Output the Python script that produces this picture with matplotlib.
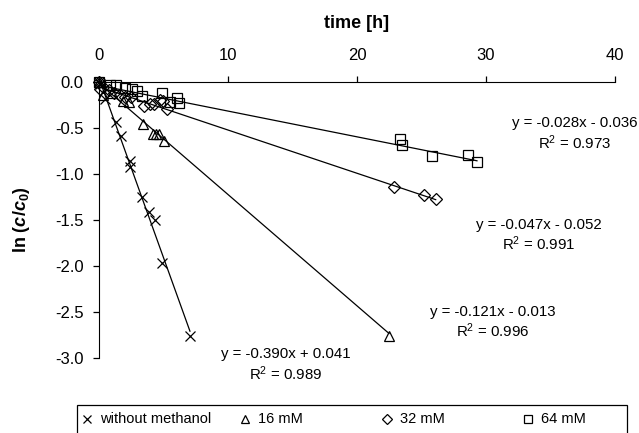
import matplotlib
matplotlib.use('Agg')
import matplotlib.pyplot as plt
from matplotlib.lines import Line2D
from matplotlib.patches import Rectangle

plt.rcParams['font.family'] = ['Liberation Sans', 'DejaVu Sans']
plt.rcParams['axes.unicode_minus'] = False
plt.rcParams['mathtext.fontset'] = 'custom'
plt.rcParams['mathtext.it'] = 'Liberation Sans:bold:italic'
plt.rcParams['mathtext.rm'] = 'Liberation Sans'
plt.rcParams['mathtext.bf'] = 'Liberation Sans:bold'

# without methanol
t_none = [0.0, 0.08, 0.47, 1.29, 1.68, 2.40, 2.42, 3.33, 3.88, 4.34, 4.86, 7.05]
y_none = [0.0, -0.02, -0.18, -0.43, -0.59, -0.86, -0.92, -1.25, -1.41, -1.50, -1.97, -2.76]
# 16 mM
t_16 = [0.0, 0.28, 1.0, 1.84, 2.35, 3.39, 4.16, 4.42, 4.67, 5.04, 22.48]
y_16 = [0.0, -0.14, -0.12, -0.21, -0.22, -0.46, -0.56, -0.56, -0.57, -0.64, -2.76]
# 32 mM
t_32 = [0.0, 0.08, 0.3, 0.8, 1.2, 1.6, 2.0, 2.5, 3.49, 3.95, 4.26, 4.73, 4.94, 5.29, 22.9, 25.2, 26.1]
y_32 = [0.0, -0.08, -0.05, -0.09, -0.12, -0.14, -0.16, -0.16, -0.26, -0.24, -0.24, -0.20, -0.21, -0.29,
        -1.145, -1.23, -1.275]
# 64 mM
t_64 = [0.0, 0.85, 1.32, 2.02, 2.53, 2.97, 3.36, 4.86, 5.50, 6.02, 6.18, 23.3, 23.5, 25.8, 28.6, 29.3]
y_64 = [0.0, -0.03, -0.03, -0.06, -0.08, -0.10, -0.15, -0.12, -0.22, -0.17, -0.23, -0.62, -0.69, -0.80,
        -0.79, -0.87]

slopes = [-0.390, -0.121, -0.047, -0.028]
intercepts = [0.041, -0.013, -0.052, -0.036]
r2 = ['0.989', '0.996', '0.991', '0.973']
labels = ['without methanol', '16 mM', '32 mM', '64 mM']
markers = ['x', '^', 'D', 's']
msizes = [7, 6.5, 6, 6.5]

fig = plt.figure(figsize=(6.39, 4.33), dpi=100)
ax = fig.add_axes([99/639, 1 - 358/433, 516/639, 276/433])

series = [(t_none, y_none), (t_16, y_16), (t_32, y_32), (t_64, y_64)]
for (t, y), m, ms, k, d in zip(series, markers, msizes, slopes, intercepts):
    tmax = max(t)
    ax.plot([0, tmax], [d, k * tmax + d], color='black', lw=0.9, zorder=2)
    ax.plot(t, y, ls='none', marker=m, ms=ms, mfc='none', mec='black', mew=0.9, zorder=3,
            clip_on=False)

# trendline equations
eq_pos = [(14.5, -3.076), (30.5, -2.614), (34.1, -1.668), (36.9, -0.565)]
for (x, y), k, d, r in zip(eq_pos, slopes, intercepts, r2):
    sign = '+' if d >= 0 else '-'
    s = 'y = %.3fx %s %.3f\nR$^2$ = %s' % (k, sign, abs(d), r)
    ax.text(x, y, s, ha='center', va='center', fontsize=10.8, linespacing=1.2, clip_on=False)

ax.set_xlim(0, 40)
ax.set_ylim(-3.0, 0.0)
ax.set_xticks([0, 10, 20, 30, 40])
ax.set_yticks([0.0, -0.5, -1.0, -1.5, -2.0, -2.5, -3.0])
ax.set_yticklabels(['%.1f' % v for v in [0.0, -0.5, -1.0, -1.5, -2.0, -2.5, -3.0]])
ax.xaxis.tick_top()
ax.xaxis.set_label_position('top')
ax.spines['bottom'].set_visible(False)
ax.spines['right'].set_visible(False)
ax.tick_params(axis='both', direction='out', length=4, width=0.9, labelsize=12)
ax.tick_params(axis='x', pad=10)
ax.tick_params(axis='y', pad=7)
ax.set_xlabel('time [h]', fontsize=13, fontweight='bold')
ax.xaxis.set_label_coords(0.5, 1.196)
ax.set_ylabel(r'ln ($c$/$c_{\mathbf{0}}$)', fontsize=13, fontweight='bold')
ax.yaxis.set_label_coords(-0.13, 0.5)

# legend box at bottom (cut off by figure edge)
fig.add_artist(Rectangle((77/639, -0.02), 550/639, 1 - 405/433 + 0.02, transform=fig.transFigure,
                         fill=False, ec='black', lw=0.9))
leg_x = [87, 245, 387, 528]
for lx, m, ms, lab in zip(leg_x, markers, msizes, labels):
    fig.add_artist(Line2D([lx/639], [1 - 419/433], transform=fig.transFigure, ls='none', marker=m,
                          ms=ms * 0.85, mfc='none', mec='black', mew=0.9))
    fig.text((lx + 13)/639, 1 - 419/433, lab, ha='left', va='center', fontsize=10.5)

fig.savefig('out.png', dpi=100)
